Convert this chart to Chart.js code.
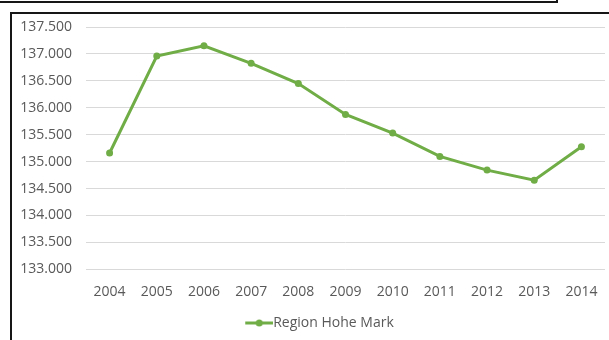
<!DOCTYPE html>
<html>
<head>
<meta charset="utf-8">
<script src="https://cdn.jsdelivr.net/npm/chart.js@4.4.0/dist/chart.umd.min.js"></script>
<style>
  html, body { margin: 0; padding: 0; background: #fff; overflow: hidden; }
  #wrap { position: relative; width: 609px; height: 340px; }
  #chart { position: absolute; left: 0; top: 0; }
  .frame { position: absolute; box-sizing: border-box; border: 2px solid #161616; }
</style>
</head>
<body>
<div id="wrap">
  <canvas id="chart" width="609" height="340"></canvas>
  <div class="frame" style="left:-4px; top:-20px; width:562px; height:23px;"></div>
  <div class="frame" style="left:10px; top:12px; width:620px; height:360px;"></div>
</div>
<script>
// Population of Region Hohe Mark, 2004-2014
const years = ['2004', '2005', '2006', '2007', '2008', '2009', '2010', '2011', '2012', '2013', '2014'];
const population = [135160, 136960, 137150, 136825, 136450, 135877, 135530, 135097, 134842, 134656, 135277];
const seriesName = 'Region Hohe Mark';

const green = '#70ad47';
const textGrey = '#595959';

// legend marker: short line with a dot, sitting at the right end of a wider box
function legendMarker() {
    const c = document.createElement('canvas');
    c.width = 50;
    c.height = 10;
    const g = c.getContext('2d');
    g.strokeStyle = green;
    g.lineWidth = 3;
    g.beginPath();
    g.moveTo(22, 5);
    g.lineTo(50, 5);
    g.stroke();
    g.fillStyle = green;
    g.beginPath();
    g.arc(36, 5, 3.5, 0, Math.PI * 2);
    g.fill();
    return c;
}

function fmt(v) {
    return v.toLocaleString('de-DE', { minimumFractionDigits: 0 });
}

document.addEventListener('DOMContentLoaded', function() {
    const ctx = document.getElementById('chart').getContext('2d');
    const marker = legendMarker();
    new Chart(ctx, {
        type: 'line',
        data: {
            labels: years,
            datasets: [{
                label: seriesName,
                data: population,
                borderColor: green,
                backgroundColor: green,
                borderWidth: 3,
                pointRadius: 3.5,
                pointBackgroundColor: green,
                pointBorderWidth: 0,
                tension: 0,
                fill: false
            }]
        },
        options: {
            responsive: false,
            animation: false,
            layout: {
                padding: { left: 12, right: -3, top: 27, bottom: 0 }
            },
            plugins: {
                legend: {
                    position: 'bottom',
                    labels: {
                        usePointStyle: true,
                        pointStyle: marker,
                        pointStyleWidth: 36,
                        color: textGrey,
                        padding: 10,
                        font: { family: 'Open Sans', size: 14 }
                    }
                },
                tooltip: { enabled: false }
            },
            scales: {
                x: {
                    offset: true,
                    grid: { display: false, drawTicks: false },
                    border: { display: false },
                    ticks: {
                        color: textGrey,
                        padding: 14,
                        maxRotation: 0,
                        font: { family: 'Open Sans', size: 14 }
                    },
                    afterFit: function(scale) {
                        scale.height = 36.7;
                        // labels fit inside their category slots, no extra side room needed
                        scale.paddingLeft = 0;
                        scale.paddingRight = 0;
                    }
                },
                y: {
                    min: 133000,
                    max: 137500,
                    grid: { color: '#d9d9d9', lineWidth: 1, drawTicks: false },
                    border: { display: false },
                    ticks: {
                        stepSize: 500,
                        color: textGrey,
                        padding: 14,
                        font: { family: 'Open Sans', size: 14 },
                        callback: function(v) { return fmt(v); }
                    },
                    afterFit: function(scale) { scale.width = 74; }
                }
            }
        }
    });
});
</script>
</body>
</html>
